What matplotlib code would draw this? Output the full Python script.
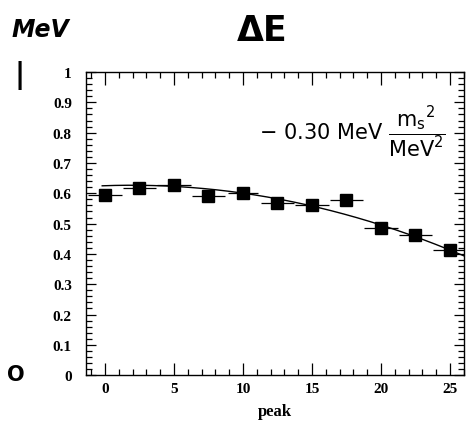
import numpy as np
import matplotlib
matplotlib.use("Agg")
import matplotlib.pyplot as plt
from matplotlib.ticker import MultipleLocator

# -------------------------------------------------------------
# Data
# -------------------------------------------------------------
peak = [0, 2.5, 5, 7.5, 10, 12.5, 15, 17.5, 20, 22.5, 25]
delta_e = [0.594, 0.617, 0.627, 0.591, 0.602, 0.568, 0.563, 0.579, 0.485, 0.463, 0.414]
peak_err = [1.25, 1.2, 1.2, 1.2, 1.1, 1.2, 1.2, 1.2, 1.25, 1.2, 1.2]

# quadratic fit drawn through the points (c2, c1, c0)
fit_coeffs = [-0.000402, 0.00156, 0.625]
fit_range = (-0.2, 26.0)

x_ticks = [0, 5, 10, 15, 20, 25]
y_ticks = [0, 0.1, 0.2, 0.3, 0.4, 0.5, 0.6, 0.7, 0.8, 0.9, 1]
y_tick_labels = ["0", "0.1", "0.2", "0.3", "0.4", "0.5", "0.6", "0.7", "0.8", "0.9", "1"]

# -------------------------------------------------------------
# Plot
# -------------------------------------------------------------
fig = plt.figure(figsize=(4.68, 4.27), dpi=100)
ax = fig.add_axes([0.183, 0.119, 0.808, 0.710])

ax.errorbar(peak, delta_e, xerr=peak_err, fmt="s", color="black",
            markersize=8.5, elinewidth=0.9, capsize=0)

xs = np.linspace(fit_range[0], fit_range[1], 200)
ax.plot(xs, np.polyval(fit_coeffs, xs), color="black", lw=1.0)

ax.set_xlim(-1.4, 26)
ax.set_ylim(0, 1)

tick_font = {"family": "Liberation Serif", "weight": "bold", "size": 11}
ax.set_xticks(x_ticks)
ax.set_xticklabels([str(t) for t in x_ticks], fontdict=tick_font)
ax.set_yticks(y_ticks)
ax.set_yticklabels(y_tick_labels, fontdict=tick_font)
ax.xaxis.set_minor_locator(MultipleLocator(1))
ax.yaxis.set_minor_locator(MultipleLocator(0.02))

ax.tick_params(which="both", direction="in", top=True, right=True, width=0.9)
ax.tick_params(which="major", axis="x", length=9, pad=5)
ax.tick_params(which="major", axis="y", length=7, pad=10)
ax.tick_params(which="minor", length=4)
for s in ax.spines.values():
    s.set_linewidth(1.0)

ax.set_xlabel("peak", family="Liberation Serif", weight="bold", size=12, labelpad=6)

# handwritten notes on the scan
fig.text(40 / 468, 1 - 30 / 427, "MeV", fontsize=17, style="italic",
         weight="bold", ha="center", va="center")
fig.text(262 / 468, 1 - 31 / 427, "ΔE", fontsize=25, weight="heavy",
         ha="center", va="center")
fig.text(20 / 468, 1 - 76 / 427, "|", fontsize=20, weight="heavy",
         ha="center", va="center")
fig.text(16 / 468, 1 - 375 / 427, "O", fontsize=15, weight="heavy",
         ha="center", va="center")
fig.text(352 / 468, 1 - 132 / 427,
         r"$-\ 0.30\ \mathrm{MeV}\ \dfrac{\mathrm{m_s}^{2}}{\mathrm{MeV}^{2}}$",
         fontsize=15, ha="center", va="center")

fig.savefig("out.png", dpi=100)
